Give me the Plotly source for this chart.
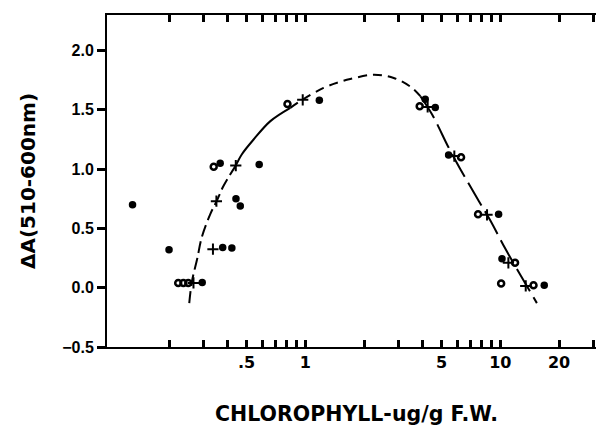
import plotly.graph_objects as go

# Data
filled_x = [0.13, 0.20, 0.296, 0.377, 0.42, 0.366, 0.441, 0.464, 0.58, 1.18, 4.12, 4.64, 5.43, 9.8, 10.2, 16.8]
filled_y = [0.70, 0.32, 0.045, 0.34, 0.335, 1.05, 0.75, 0.69, 1.04, 1.58, 1.59, 1.52, 1.12, 0.62, 0.245, 0.02]

open_x = [0.223, 0.237, 0.251, 0.339, 0.81, 3.86, 6.29, 7.69, 11.9, 10.1, 14.8]
open_y = [0.04, 0.04, 0.04, 1.02, 1.55, 1.53, 1.10, 0.62, 0.21, 0.035, 0.02]

plus_x = [0.267, 0.336, 0.35, 0.44, 0.97, 4.24, 5.81, 8.55, 11.0, 13.5]
plus_y = [0.04, 0.325, 0.73, 1.03, 1.585, 1.525, 1.11, 0.615, 0.21, 0.015]

curve_x = [0.254, 0.262, 0.279, 0.295, 0.326, 0.35, 0.381, 0.44, 0.473, 0.543, 0.662, 0.838,
           0.97, 1.24, 1.48, 1.70, 2.24, 2.84, 3.53, 3.89, 4.47, 5.43, 6.24, 7.74, 8.89, 10.6, 12.7, 15.4]
curve_y = [-0.13, 0.05, 0.245, 0.43, 0.623, 0.726, 0.86, 1.03, 1.126, 1.25, 1.405, 1.517,
           1.587, 1.685, 1.732, 1.76, 1.796, 1.769, 1.685, 1.615, 1.461, 1.182, 1.0, 0.734, 0.567, 0.33, 0.106, -0.13]

x_major = [0.5, 1, 5, 10, 20]
x_major_text = [".5", "1", "5", "10", "20"]
x_minor = [0.2, 0.3, 0.4, 0.6, 0.7, 0.8, 0.9, 2, 3, 4, 6, 7, 8, 9, 30]
y_tickvals = [-0.5, 0.0, 0.5, 1.0, 1.5, 2.0]
y_ticktext = ["\u22120.5", "0.0", "0.5", "1.0", "1.5", "2.0"]

fig = go.Figure()

segments = [(0, 8, "12px,5px"), (7, 12, "solid"), (11, 20, "9px,6px"), (19, len(curve_x), "26px,7px")]
for a, b, dash in segments:
    fig.add_trace(go.Scatter(
        x=curve_x[a:b], y=curve_y[a:b], mode="lines",
        line=dict(color="black", width=2, dash=dash, shape="spline", smoothing=1.0),
        hoverinfo="skip", showlegend=False))

fig.add_trace(go.Scatter(x=filled_x, y=filled_y, mode="markers",
                         marker=dict(symbol="circle", size=7.5, color="black"), showlegend=False))
fig.add_trace(go.Scatter(x=open_x, y=open_y, mode="markers",
                         marker=dict(symbol="circle-open", size=6, color="black", line=dict(width=2.5)),
                         showlegend=False))
fig.add_trace(go.Scatter(x=plus_x, y=plus_y, mode="markers",
                         marker=dict(symbol="cross-thin-open", size=8, color="black", line=dict(width=2)),
                         showlegend=False))

all_x_ticks = x_major + x_minor
all_x_text = ["<b>%s</b>" % t for t in x_major_text] + [""] * len(x_minor)
x_range = [-1.017, 1.542]

fig.update_layout(
    width=604, height=430,
    margin=dict(l=99, r=6, t=7, b=91),
    paper_bgcolor="white", plot_bgcolor="white",
    xaxis=dict(
        type="log", range=x_range,
        showline=True, linecolor="black", linewidth=2, mirror="allticks",
        ticks="inside", ticklen=7, tickwidth=3, tickcolor="black",
        tickvals=all_x_ticks, ticktext=all_x_text,
        tickfont=dict(family="DejaVu Sans", size=16, color="black"),
        title=dict(text="<b>CHLOROPHYLL-ug/g F.W.</b>", standoff=35,
                   font=dict(family="DejaVu Sans", size=20.5, color="black")),
    ),
    yaxis=dict(
        range=[-0.5, 2.3],
        showline=True, linecolor="black", linewidth=2,
        ticks="outside", ticklen=8, tickwidth=3, tickcolor="black",
        tickvals=y_tickvals, ticktext=["<b>%s</b>" % t for t in y_ticktext],
        tickfont=dict(family="Liberation Sans", size=16, color="black"),
        title=dict(text="<b>ΔA(510-600nm)</b>", standoff=21,
                   font=dict(family="DejaVu Sans", size=20, color="black")),
    ),
)

fig.write_html("out.html")
